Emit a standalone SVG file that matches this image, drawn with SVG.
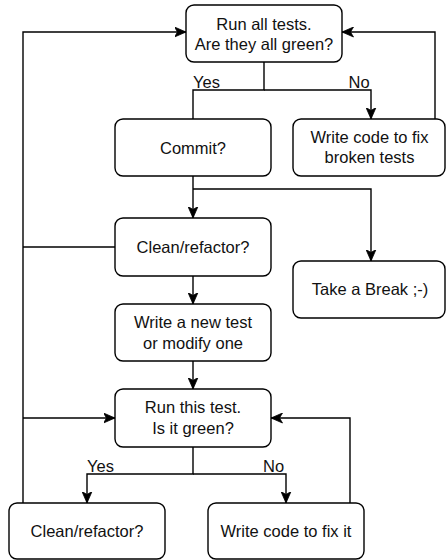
<svg xmlns="http://www.w3.org/2000/svg" width="446" height="560" viewBox="0 0 446 560">
<style>
.node rect{fill:#ffffff;stroke:#000000;stroke-width:1.4}
.node text,.lbl{font-family:"Liberation Sans",Arial,Helvetica,sans-serif;font-size:16.5px;fill:#111111}
.node text{text-anchor:middle}
.edges path{fill:none;stroke:#000000;stroke-width:1.4}
.arr{marker-end:url(#ah)}
</style>
<defs>
<marker id="ah" markerUnits="userSpaceOnUse" markerWidth="13" markerHeight="11" viewBox="0 -5.5 13 11" refX="11.5" refY="0" orient="auto">
<path d="M0,-5 L11.5,0 L0,5 L3,0 Z" fill="#000000" stroke="#000000" stroke-width="0.8"/>
</marker>
</defs>
<g class="edges">
<path d="M264,62 V90 H193 V119"/>
<path class="arr" d="M264,90 H371 V119"/>
<path class="arr" d="M435,119 V32 H342"/>
<path class="arr" d="M193,176 V218"/>
<path class="arr" d="M193,189 H371 V261"/>
<path class="arr" d="M193,276 V304"/>
<path d="M115,247 H23"/>
<path class="arr" d="M193,361 V389"/>
<path class="arr" d="M193,447 V474 H87 V503"/>
<path class="arr" d="M193,474 H286 V503"/>
<path class="arr" d="M23,503 V32 H186"/>
<path class="arr" d="M23,418 H115"/>
<path class="arr" d="M350,503 V418 H271"/>
</g>
<text class="lbl" x="193" y="87.5">Yes</text>
<text class="lbl" x="348.5" y="87.5">No</text>
<text class="lbl" x="87" y="471.5">Yes</text>
<text class="lbl" x="263" y="471.5">No</text>
<g id="run-all" class="node"><rect x="186" y="5" width="156" height="57" rx="8"/><text x="264" y="29.5">Run all tests.</text><text x="264" y="50">Are they all green?</text></g>
<g id="commit" class="node"><rect x="115" y="119" width="156" height="57" rx="8"/><text x="193" y="153.5">Commit?</text></g>
<g id="fix-broken" class="node"><rect x="293" y="119" width="152" height="57" rx="8"/><text x="369.5" y="142.5">Write code to fix</text><text x="369.5" y="163">broken tests</text></g>
<g id="clean1" class="node"><rect x="115" y="218" width="156" height="58" rx="8"/><text x="193" y="252.5">Clean/refactor?</text></g>
<g id="break" class="node"><rect x="293" y="261" width="152" height="57" rx="8"/><text x="370" y="295">Take a Break ;-)</text></g>
<g id="new-test" class="node"><rect x="115" y="304" width="156" height="57" rx="8"/><text x="193" y="328">Write a new test</text><text x="193" y="348.5">or modify one</text></g>
<g id="run-this" class="node"><rect x="115" y="389" width="156" height="58" rx="8"/><text x="193" y="413">Run this test.</text><text x="193" y="433.5">Is it green?</text></g>
<g id="clean2" class="node"><rect x="9" y="503" width="156" height="56" rx="8"/><text x="87" y="537">Clean/refactor?</text></g>
<g id="fix-it" class="node"><rect x="208" y="503" width="156" height="56" rx="8"/><text x="286" y="537">Write code to fix it</text></g>
</svg>
